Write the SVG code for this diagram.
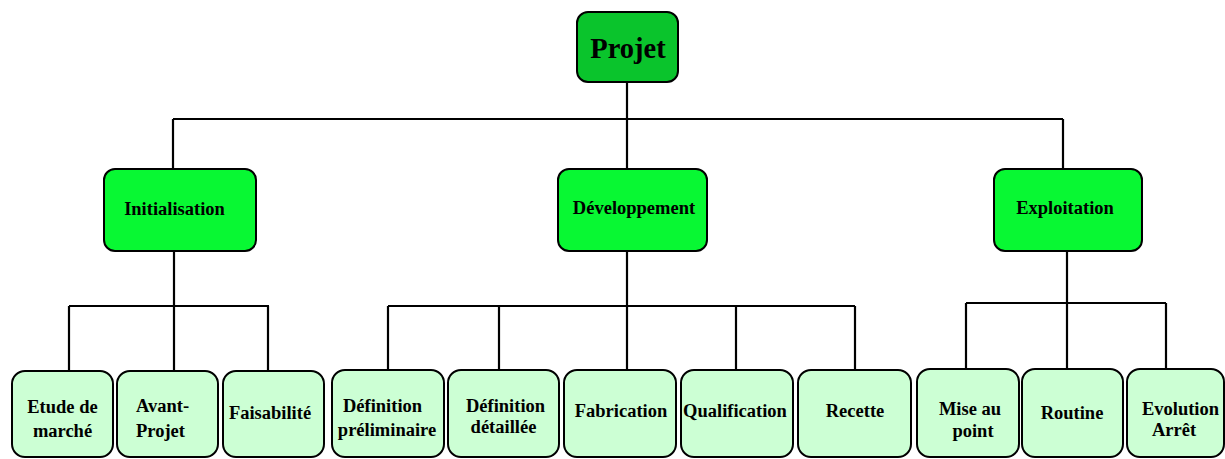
<svg xmlns="http://www.w3.org/2000/svg" width="1225" height="459" viewBox="0 0 1225 459">
  <style>
    .box { stroke: #000; stroke-width: 2; }
    .root { fill: #0ac42c; }
    .phase { fill: #08f833; }
    .task { fill: #ccffd4; }
    text { font-family: "Liberation Serif", "Times New Roman", serif; font-weight: bold; fill: #000; }
    .t { font-size: 18.5px; text-anchor: middle; }
    .big { font-size: 28.5px; text-anchor: middle; }
    .links { fill: none; stroke: #000; stroke-width: 2.2; }
  </style>
  <rect width="1225" height="459" fill="#fff"/>

  <g id="connectors" class="links">
    <path d="M627 82 V169 M173 119 H1063 M173 119 V169 M1063 119 V169"/>
    <path d="M174 251 V306 M69 306 H269 M69 306 V370 M174 306 V370 M268 306 V370"/>
    <path d="M627 251 V370 M388 306 H855 M388 306 V370 M499 306 V370 M736 306 V370 M855 306 V370"/>
    <path d="M1067 251 V303 M966 303 H1166 M966 303 V369 M1067 303 V369 M1166 303 V369"/>
  </g>

  <g id="projet">
    <rect class="box root" x="577" y="12" width="101" height="70" rx="11"/>
    <text class="big" x="628" y="58">Projet</text>
  </g>

  <g id="initialisation">
    <rect class="box phase" x="104" y="169" width="152" height="82" rx="11"/>
    <text class="t" x="174.5" y="215">Initialisation</text>
  </g>
  <g id="developpement">
    <rect class="box phase" x="558" y="169" width="149" height="82" rx="11"/>
    <text class="t" x="634" y="214">Développement</text>
  </g>
  <g id="exploitation">
    <rect class="box phase" x="994" y="169" width="148" height="82" rx="11"/>
    <text class="t" x="1065" y="214">Exploitation</text>
  </g>

  <g id="etude-marche">
    <rect class="box task" x="12" y="371" width="101" height="86" rx="13"/>
    <text class="t" x="62.5" y="413">Etude de</text>
    <text class="t" x="62.5" y="437">marché</text>
  </g>
  <g id="avant-projet">
    <rect class="box task" x="117" y="371" width="101" height="86" rx="13"/>
    <text class="t" x="136" y="412" style="text-anchor:start">Avant-</text>
    <text class="t" x="136" y="437" style="text-anchor:start">Projet</text>
  </g>
  <g id="faisabilite">
    <rect class="box task" x="223" y="371" width="101" height="86" rx="13"/>
    <text class="t" x="270" y="419">Faisabilité</text>
  </g>
  <g id="definition-preliminaire">
    <rect class="box task" x="332" y="370" width="112" height="87" rx="13"/>
    <text class="t" x="382.5" y="412">Définition</text>
    <text class="t" x="387" y="436">préliminaire</text>
  </g>
  <g id="definition-detaillee">
    <rect class="box task" x="448" y="370" width="111" height="87" rx="13"/>
    <text class="t" x="505.5" y="412">Définition</text>
    <text class="t" x="503.5" y="433">détaillée</text>
  </g>
  <g id="fabrication">
    <rect class="box task" x="564" y="370" width="112" height="87" rx="13"/>
    <text class="t" x="621" y="417">Fabrication</text>
  </g>
  <g id="qualification">
    <rect class="box task" x="681" y="370" width="112" height="87" rx="13"/>
    <text class="t" x="735" y="417">Qualification</text>
  </g>
  <g id="recette">
    <rect class="box task" x="798" y="370" width="113" height="87" rx="13"/>
    <text class="t" x="855" y="417">Recette</text>
  </g>
  <g id="mise-au-point">
    <rect class="box task" x="917" y="369" width="102" height="88" rx="13"/>
    <text class="t" x="970" y="415">Mise au</text>
    <text class="t" x="973" y="437">point</text>
  </g>
  <g id="routine">
    <rect class="box task" x="1022" y="369" width="101" height="88" rx="13"/>
    <text class="t" x="1072" y="419">Routine</text>
  </g>
  <g id="evolution-arret">
    <rect class="box task" x="1127" y="369" width="97" height="88" rx="13"/>
    <text class="t" x="1180.5" y="415">Evolution</text>
    <text class="t" x="1174" y="436">Arrêt</text>
  </g>
</svg>
